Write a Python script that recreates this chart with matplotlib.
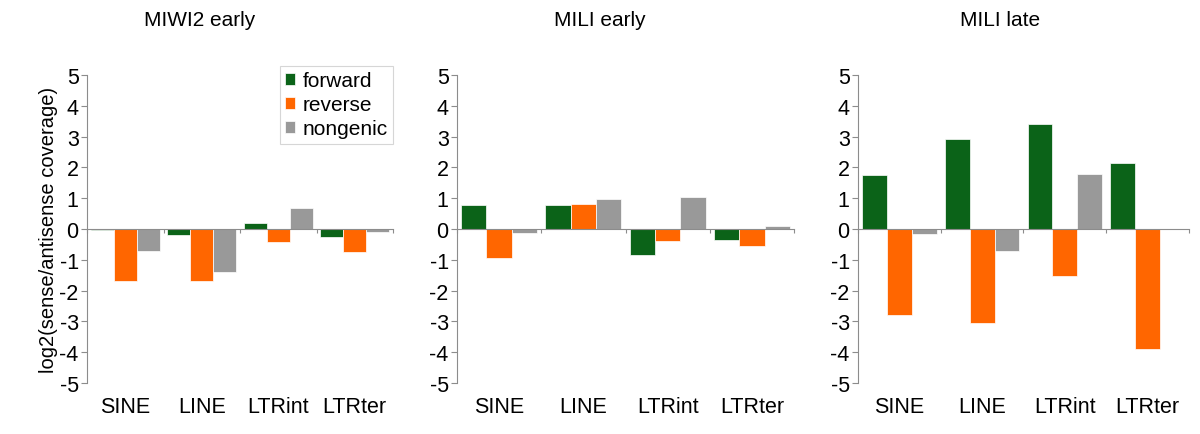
import matplotlib
matplotlib.use('Agg')
import matplotlib.pyplot as plt
import matplotlib.transforms as mtransforms
import numpy as np

plt.rcParams['font.family'] = ['Liberation Sans', 'DejaVu Sans']

categories = ['SINE', 'LINE', 'LTRint', 'LTRter']
series = ['forward', 'reverse', 'nongenic']
colors = ['#0b6318', '#ff6600', '#999999']

titles = ['MIWI2 early', 'MILI early', 'MILI late']

# values per panel: forward / reverse / nongenic for each category
miwi2_early_fwd = [-0.04, -0.18, 0.18, -0.25]
miwi2_early_rev = [-1.68, -1.70, -0.41, -0.76]
miwi2_early_non = [-0.70, -1.39, 0.67, -0.11]

mili_early_fwd = [0.79, 0.78, -0.83, -0.37]
mili_early_rev = [-0.94, 0.80, -0.39, -0.54]
mili_early_non = [-0.14, 0.98, 1.05, 0.09]

mili_late_fwd = [1.75, 2.91, 3.40, 2.13]
mili_late_rev = [-2.80, -3.06, -1.52, -3.91]
mili_late_non = [-0.15, -0.71, 1.77, 0.0]

panels = [
    (miwi2_early_fwd, miwi2_early_rev, miwi2_early_non),
    (mili_early_fwd, mili_early_rev, mili_early_non),
    (mili_late_fwd, mili_late_rev, mili_late_non),
]

fig = plt.figure(figsize=(12, 4.35), dpi=100)

W, H = 1200, 435
# axes boxes in pixels: left, right
boxes = [(87, 393), (457, 794), (858, 1189)]
top_px, bot_px = 76, 384
title_x = [200, 600, 1000]

spine_col = '#8c8c8c'
bw = 0.3
x = np.arange(len(categories))

for k, (vals, (l, r)) in enumerate(zip(panels, boxes)):
    ax = fig.add_axes([l / W, (H - bot_px) / H, (r - l) / W, (bot_px - top_px) / H])
    for j, (v, c) in enumerate(zip(vals, colors)):
        ax.bar(x + 0.05 + bw * j + bw / 2, v, width=bw, color=c,
               edgecolor='white', linewidth=0.5, label=series[j])
    ax.set_xlim(0, 4)
    ax.set_ylim(-5, 5)
    ax.set_yticks(range(-5, 6))
    ax.set_yticklabels([str(t) for t in range(-5, 6)], fontsize=15.5)
    ax.spines['top'].set_visible(False)
    ax.spines['right'].set_visible(False)
    ax.spines['bottom'].set_position(('data', 0))
    ax.spines['left'].set_color(spine_col)
    ax.spines['bottom'].set_color(spine_col)
    ax.spines['left'].set_linewidth(0.8)
    ax.spines['bottom'].set_linewidth(0.8)
    ax.set_xticks(range(0, 5))
    ax.set_xticklabels([])
    ax.tick_params(axis='x', direction='out', length=3, color=spine_col, width=0.8)
    ax.tick_params(axis='y', direction='out', length=4, color=spine_col, width=0.8, pad=2)
    trans = mtransforms.blended_transform_factory(ax.transData, ax.transAxes)
    for i, cat in enumerate(categories):
        ax.text(i + 0.5, -0.075, cat, transform=trans, ha='center', va='center',
                fontsize=15.5)
    fig.text(title_x[k] / W, 1 - 20 / H, titles[k], ha='center', va='center',
             fontsize=15)
    if k == 0:
        ax.set_ylabel('log2(sense/antisense coverage)', fontsize=14.5, labelpad=1)
        leg = ax.legend(loc='upper right', bbox_to_anchor=(1.0, 1.03),
                        fontsize=15, frameon=True, fancybox=False,
                        handlelength=0.5, handleheight=0.5, handletextpad=0.35,
                        labelspacing=0.25, borderpad=0.25, borderaxespad=0)
        leg.get_frame().set_edgecolor('#cccccc')
        leg.get_frame().set_linewidth(0.8)

fig.savefig('out.png', dpi=100)
